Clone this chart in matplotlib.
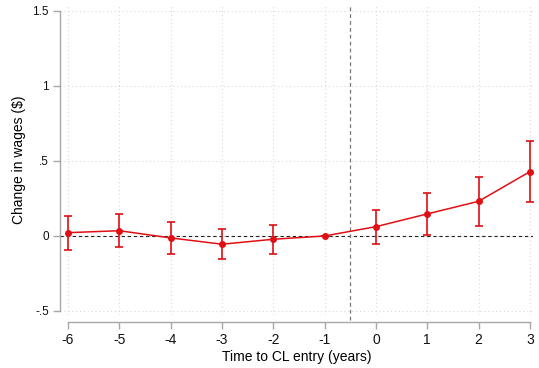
import matplotlib
matplotlib.use("Agg")
import matplotlib.pyplot as plt

plt.rcParams['font.family'] = ['Liberation Sans', 'DejaVu Sans']

# event-study coefficients with 95% CI
years = [-6, -5, -4, -3, -2, -1, 0, 1, 2, 3]
coef = [0.022, 0.035, -0.013, -0.055, -0.022, 0.0, 0.062, 0.147, 0.231, 0.429]
ci_lo = [-0.093, -0.073, -0.120, -0.155, -0.120, 0.0, -0.051, 0.007, 0.067, 0.229]
ci_hi = [0.135, 0.145, 0.095, 0.049, 0.073, 0.0, 0.175, 0.285, 0.393, 0.631]
yticks = [-0.5, 0, 0.5, 1, 1.5]
ytick_labels = ['-.5', '0', '.5', '1', '1.5']

red = '#e00f14'
axis_gray = '#a8a8a8'

fig = plt.figure(figsize=(5.39, 3.68), dpi=100)
ax = fig.add_axes([60 / 539, 1 - 315 / 368, 473 / 539, 310 / 368])

ax.set_xlim(-6.156, 3.06)
ax.set_ylim(-0.527, 1.54)

ax.grid(True, color='#d9d9d9', linestyle=(0, (1, 2.5)), linewidth=0.8)
ax.set_axisbelow(True)

ax.axhline(0, color='#222222', linestyle=(0, (3, 2.5)), linewidth=0.8, zorder=2)
ax.axvline(-0.5, color='#777777', linestyle=(0, (3, 2.5)), linewidth=0.9,
           ymin=-0.016, clip_on=False, zorder=2)

err_lo = [c - l for c, l in zip(coef, ci_lo)]
err_hi = [h - c for c, h in zip(coef, ci_hi)]
ax.errorbar(years, coef, yerr=[err_lo, err_hi], color=red, ecolor=red,
            elinewidth=1.2, capsize=3.2, capthick=1.2, linewidth=1.1,
            marker='o', markersize=4, zorder=3)

ax.set_xticks(years)
ax.set_xticklabels([str(y) for y in years])
ax.set_yticks(yticks)
ax.set_yticklabels(ytick_labels)

for s in ['top', 'right']:
    ax.spines[s].set_visible(False)
ax.spines['left'].set_bounds(-0.5, 1.5)
ax.spines['bottom'].set_bounds(-6, 3)
ax.spines['bottom'].set_position(('outward', 5))
for s in ['left', 'bottom']:
    ax.spines[s].set_color(axis_gray)
    ax.spines[s].set_linewidth(1.0)

ax.tick_params(axis='both', colors=axis_gray, length=5, width=1.0,
               labelcolor='#111111')
ax.tick_params(axis='x', labelsize=10, pad=3)
ax.tick_params(axis='y', labelsize=8.5, pad=3)

ax.set_xlabel('Time to CL entry (years)', fontsize=10, va='center')
ax.set_ylabel('Change in wages ($)', fontsize=10, va='center')
ax.xaxis.set_label_coords(0.5, -42 / 310)
ax.yaxis.set_label_coords(-41 / 473, 0.5)

fig.savefig('out.png', dpi=100)
